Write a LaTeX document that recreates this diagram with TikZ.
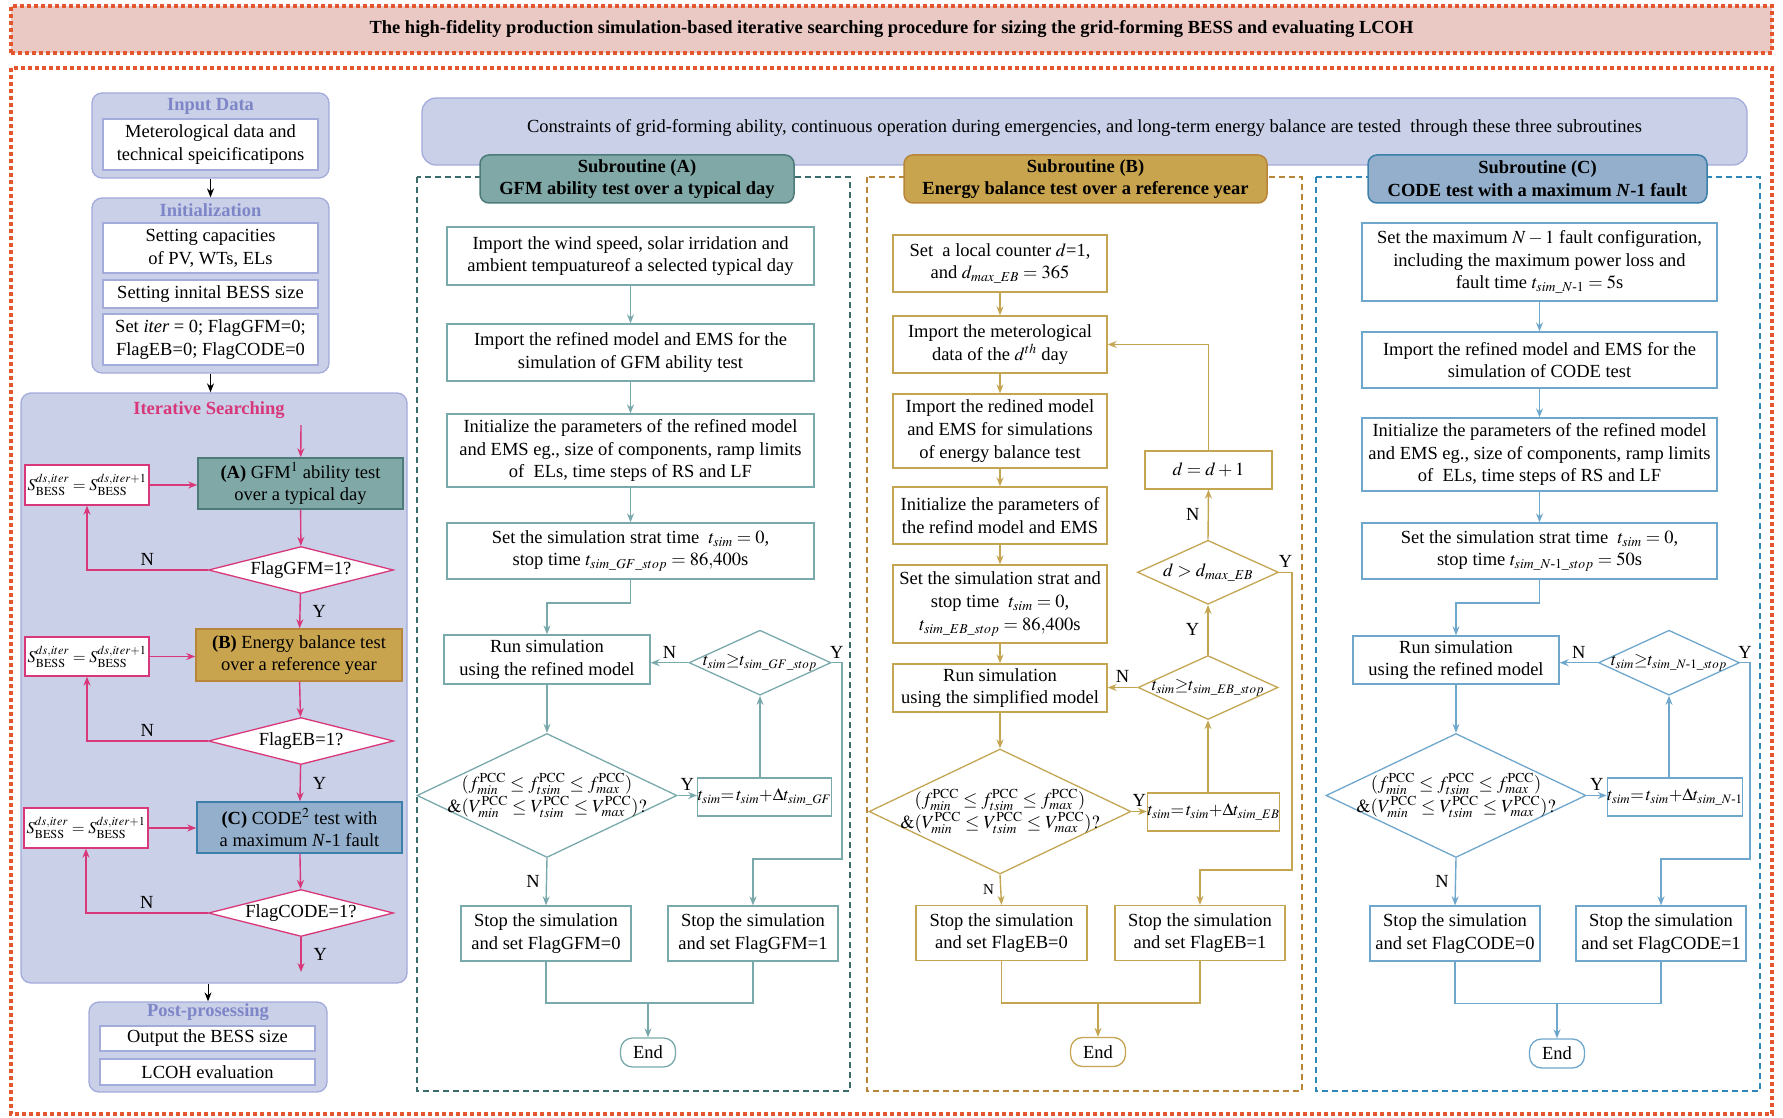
\documentclass[tikz,border=0pt]{standalone}
\usepackage{amsmath}
\usepackage{mathptmx}
\usepackage{fontspec}
\setmainfont{Liberation Serif}
\usetikzlibrary{shapes.geometric,arrows.meta}

\definecolor{orng}{HTML}{E4572E}
\definecolor{ttlf}{HTML}{EAC9C5}
\definecolor{lavf}{HTML}{C9D0E7}
\definecolor{lavd}{HTML}{A3ABDA}
\definecolor{lavt}{HTML}{7E86C8}
\definecolor{pnk}{HTML}{D8377A}
\definecolor{tlf}{HTML}{80A8A7}
\definecolor{tld}{HTML}{4D7B79}
\definecolor{tlfr}{HTML}{3C6B6B}
\definecolor{tll}{HTML}{7AA9AC}
\definecolor{gdf}{HTML}{C9A44E}
\definecolor{gdd}{HTML}{B8863A}
\definecolor{gdl}{HTML}{C4A552}
\definecolor{blf}{HTML}{93AFCB}
\definecolor{bld}{HTML}{3B7FAA}
\definecolor{blfr}{HTML}{2E87B9}
\definecolor{bll}{HTML}{6FA7CC}

\newcommand{\sform}{$S^{ds,iter}_{\mathrm{BESS}}=S^{ds,iter+1}_{\mathrm{BESS}}$}
\newcommand{\initxt}{Initialize the parameters of the refined model\\and EMS eg., size of components, ramp limits\\of \ ELs, time steps of RS and LF}
\newcommand{\condtxt}{$(f^{\mathrm{PCC}}_{min}\le f^{\mathrm{PCC}}_{tsim}\le f^{\mathrm{PCC}}_{max})$\\$\&(V^{\mathrm{PCC}}_{min}\le V^{\mathrm{PCC}}_{tsim}\le V^{\mathrm{PCC}}_{max})?$}

\begin{document}
\begin{tikzpicture}[x=1pt, y=-1pt, >={Stealth[length=9pt,width=7pt]},
  every node/.style={font=\fontsize{18.5}{22.7}\selectfont, align=center, inner sep=0pt},
  sz/.style 2 args={minimum width=#1pt, minimum height=#2pt},
  frm/.style={draw=orng, line width=3.5pt, dash pattern=on 4pt off 3pt},
  fr/.style={draw=#1, line width=2.5pt, dash pattern=on 6pt off 4pt},
  grp/.style={draw=lavd, fill=lavf, line width=1.3pt, rounded corners=10pt},
  grptl/.style={text=lavt, font=\fontsize{18.5}{22.7}\selectfont\bfseries},
  wbox/.style={draw=lavd, fill=white, line width=1.3pt},
  sbox/.style={draw=pnk, fill=white, line width=1.3pt, font=\fontsize{16.5}{20}\selectfont},
  tst/.style 2 args={fill=#1, draw=#2, line width=1.5pt},
  hd/.style 2 args={fill=#1, draw=#2, line width=1.5pt, rounded corners=9pt,
    font=\fontsize{18.5}{22.7}\selectfont\bfseries},
  bx/.style={draw=#1, fill=white, line width=1.3pt},
  sm/.style={font=\fontsize{17.5}{20}\selectfont},
  dia/.style={diamond, draw=#1, fill=white, line width=1.3pt, inner sep=-40pt},
  ln/.style={draw=#1, line width=1.4pt},
  pk/.style={draw=pnk, line width=1.4pt}]

\useasboundingbox (0,0) rectangle (1783,1118);

\node[frm, fill=ttlf, sz={1761}{47}, font=\fontsize{18.5}{22.7}\selectfont\bfseries] (ttl) at (891.5,29.5)
  {The high-fidelity production simulation-based iterative searching procedure for sizing the grid-forming BESS and evaluating LCOH};
\draw[frm] (11,68) rectangle (1772,1114);

% left column
\node[grp, sz={237}{85}] (inp) at (210.5,135.5) {};
\node[grptl] (inpT) at (210.5,106) {Input Data};
\node[wbox, sz={215}{51}] (inp1) at (210.5,144.5) {Meterological data and\\technical speicificatipons};

\node[grp, sz={237}{175}] (ini) at (210.5,285.5) {};
\node[grptl] (iniT) at (210.5,210) {Initialization};
\node[wbox, sz={215}{50}] (ini1) at (210.5,248) {Setting capacities\\of PV, WTs, ELs};
\node[wbox, sz={215}{28}] (ini2) at (210.5,294) {Setting innital BESS size};
\node[wbox, sz={215}{51}] (ini3) at (210.5,339.5) {Set \textit{iter} = 0; FlagGFM=0;\\FlagEB=0; FlagCODE=0};

\node[grp, sz={386}{590}] (its) at (214,688) {};
\node[grptl, text=pnk] (itsT) at (209,410) {Iterative Searching};
\coordinate (itin) at (301,425);
\coordinate (itout) at (301,972);

\node[tst={tlf}{tld}, sz={205}{51}] (ta) at (300.5,483.5) {\textbf{(A)} GFM$^{1}$ ability test\\over a typical day};
\node[dia=pnk, sz={185}{47}] (da) at (301,570) {FlagGFM=1?};
\node[sbox, sz={124}{40}] (sa) at (87,485) {\sform};
\node[tst={gdf}{gdd}, sz={206}{52}] (tb) at (299,655) {\textbf{(B)} Energy balance test\\over a reference year};
\node[dia=pnk, sz={185}{47}] (db) at (301,741) {FlagEB=1?};
\node[sbox, sz={124}{39}] (sb) at (87,656.5) {\sform};
\node[tst={blf}{bld}, sz={205}{51}] (tc) at (299.5,827.5) {\textbf{(C)} CODE$^{2}$ test with\\a maximum \textit{N}-1 fault};
\node[dia=pnk, sz={185}{47}] (dc) at (301,913) {FlagCODE=1?};
\node[sbox, sz={124}{40}] (sc) at (86,828) {\sform};

\node[grp, sz={238}{90}] (pst) at (208,1047) {};
\node[grptl] (pstT) at (208,1012) {Post-prosessing};
\node[wbox, sz={215}{25}] (pst1) at (207.5,1038.5) {Output the BESS size};
\node[wbox, sz={215}{26}] (pst2) at (207.5,1072) {LCOH evaluation};

\draw[->, line width=1pt] (inp) -- (ini);
\draw[->, line width=1pt] (ini.south) -- (ini.south |- its.north);
\draw[->, line width=1pt] (pst.north |- its.south) -- (pst.north);

\draw[pk,->] (itin) -- (ta);
\draw[pk,->] (ta) -- (da);
\draw[pk,->] (da.west) -- node[above=4pt]{N} (da.west -| sa.south) -- (sa.south);
\draw[pk,->] (sa.east) -- (sa.east -| ta.west);
\draw[pk,->] (da) -- node[right=12pt]{Y} (tb);
\draw[pk,->] (tb) -- (db);
\draw[pk,->] (db.west) -- node[above=4pt]{N} (db.west -| sb.south) -- (sb.south);
\draw[pk,->] (sb.east) -- (sb.east -| tb.west);
\draw[pk,->] (db) -- node[right=12pt]{Y} (tc);
\draw[pk,->] (tc) -- (dc);
\draw[pk,->] (dc.west) -- node[above=4pt]{N} (dc.west -| sc.south) -- (sc.south);
\draw[pk,->] (sc.east) -- (sc.east -| tc.west);
\draw[pk,->] (dc) -- node[right=12pt]{Y} (itout);

% banner and frames
\node[grp, rounded corners=14pt, sz={1325}{67}, text depth=11pt] (cons) at (1084.5,131.5)
  {Constraints of grid-forming ability, continuous operation during emergencies, and long-term energy balance are tested \ through these three subroutines};
\draw[fr=tlfr] (417,177) rectangle (850,1091);
\draw[fr=gdd] (867,177) rectangle (1302,1091);
\draw[fr=blfr] (1316,177) rectangle (1760,1091);

% subroutine A
\node[hd={tlf}{tld}, sz={314}{48}] (hA) at (637,179) {Subroutine (A)\\GFM ability test over a typical day};
\node[bx=tll, sz={367}{58}] (a1) at (630.5,256) {Import the wind speed, solar irridation and\\ambient tempuatureof a selected typical day};
\node[bx=tll, sz={367}{57}] (a2) at (630.5,352.5) {Import the refined model and EMS for the\\simulation of GFM ability test};
\node[bx=tll, sz={367}{73}] (a3) at (630.5,450.5) {\initxt};
\node[bx=tll, sz={367}{56}] (a4) at (630.5,551) {Set the simulation strat time \ $t_{sim}=0$,\\stop time $t_{sim\_GF\_stop}=86{,}400$s};
\node[bx=tll, sz={206}{49}] (a5) at (547,659.5) {Run simulation\\using the refined model};
\node[dia=tll, sz={260}{124}] (a6) at (547,795.5) {\condtxt};
\node[bx=tll, sm, sz={127}{38}] (a7) at (764.5,797) {$t_{sim}{=}\,t_{sim}{+}\Delta t_{sim\_GF}$};
\node[dia=tll, sm, sz={142}{65}] (a8) at (760,662.7) {$t_{sim}{\ge}t_{sim\_GF\_stop}$};
\node[bx=tll, sz={170}{55}] (a9) at (546,933.5) {Stop the simulation\\and set FlagGFM=0};
\node[bx=tll, sz={170}{55}] (a10) at (753,933.5) {Stop the simulation\\and set FlagGFM=1};
\node[bx=tll, rounded corners=12pt, sz={55}{29}] (a11) at (648,1052.5) {End};

\draw[ln=tll,->] (a1) -- (a2);
\draw[ln=tll,->] (a2) -- (a3);
\draw[ln=tll,->] (a3) -- (a4);
\draw[ln=tll,->] (a4.south) -- (630.5,603) -| (a5.north);
\draw[ln=tll,->] (a5) -- (a6);
\draw[ln=tll,->] (a6.east) -- node[above=4pt]{Y} (a7.west |- a6.east);
\draw[ln=tll,->] (a8.south |- a7.north) -- (a8.south);
\draw[ln=tll,->] (a8.west) -- node[above=4pt]{N} (a5.east |- a8.west);
\draw[ln=tll,->] (a8.east) -- node[above=4pt]{Y} (842,662.7) |- (753,859) -- (a10.north);
\draw[ln=tll,->] (a6.south) -- node[left=6pt]{N} (a9.north);
\draw[ln=tll] (a9.south) |- (a10.south |- 0,1003) -- (a10.south);
\draw[ln=tll,->] (a11.north |- 0,1003) -- (a11.north);

% subroutine B
\node[hd={gdf}{gdd}, sz={363}{48}] (hB) at (1085.5,179) {Subroutine (B)\\Energy balance test over a reference year};
\node[bx=gdl, sz={214}{57}] (b1) at (1000,263.5) {Set \ a local counter $d$=1,\\and $d_{max\_EB}=365$};
\node[bx=gdl, sz={214}{57}] (b2) at (1000,344.5) {Import the meterological\\data of the $d^{th}$ day};
\node[bx=gdl, sz={214}{74}] (b3) at (1000,431) {Import the redined model\\and EMS for simulations\\of energy balance test};
\node[bx=gdl, sz={214}{57}] (b4) at (1000,515.5) {Initialize the parameters of\\the refind model and EMS};
\node[bx=gdl, sz={214}{78}] (b5) at (1000,604) {Set the simulation strat and\\stop time \ $t_{sim}=0$,\\$t_{sim\_EB\_stop}=86{,}400$s};
\node[bx=gdl, sz={214}{48}] (b6) at (1000,688) {Run simulation\\using the simplified model};
\node[dia=gdl, sz={262}{125}] (b7) at (1000,811.5) {\condtxt};
\node[bx=gdl, sm, sz={127}{38}] (b8) at (1213.5,812) {$t_{sim}{=}\,t_{sim}{+}\Delta t_{sim\_EB}$};
\node[dia=gdl, sm, sz={140}{64}] (b9) at (1208,687.5) {$t_{sim}{\ge}t_{sim\_EB\_stop}$};
\node[dia=gdl, sz={141}{64}] (b10) at (1208,572.3) {$d>d_{max\_EB}$};
\node[bx=gdl, sz={127}{38}] (b11) at (1208.5,470) {$d=d+1$};
\node[bx=gdl, sz={171}{55}] (b12) at (1001.5,933) {Stop the simulation\\and set FlagEB=0};
\node[bx=gdl, sz={170}{55}] (b13) at (1200,933) {Stop the simulation\\and set FlagEB=1};
\node[bx=gdl, rounded corners=12pt, sz={55}{29}] (b14) at (1098,1052) {End};

\draw[ln=gdl,->] (b1) -- (b2);
\draw[ln=gdl,->] (b2) -- (b3);
\draw[ln=gdl,->] (b3) -- (b4);
\draw[ln=gdl,->] (b4) -- (b5);
\draw[ln=gdl,->] (b5) -- (b6);
\draw[ln=gdl,->] (b6) -- (b7);
\draw[ln=gdl,->] (b7.east) -- node[above=4pt]{Y} (b8.west |- b7.east);
\draw[ln=gdl,->] (b9.south |- b8.north) -- (b9.south);
\draw[ln=gdl,->] (b9.west) -- node[above=4pt]{N} (b6.east |- b9.west);
\draw[ln=gdl,->] (b9.north) -- node[left=8pt]{Y} (b10.south);
\draw[ln=gdl,->] (b10.north) -- node[left=8pt]{N} (b11.south);
\draw[ln=gdl,->] (b11.north) |- (b2.east);
\draw[ln=gdl,->] (b10.east) -- node[above=4pt]{Y} (1292,572.3) |- (1200,870) -- (b13.north);
\draw[ln=gdl,->] (b7.south) -- node[left=6pt, font=\fontsize{15}{18}\selectfont]{N} (b12.north);
\draw[ln=gdl] (b12.south) |- (b13.south |- 0,1003) -- (b13.south);
\draw[ln=gdl,->] (b14.north |- 0,1003) -- (b14.north);

% subroutine C
\node[hd={blf}{bld}, sz={339}{48}] (hC) at (1537.5,179) {Subroutine (C)\\CODE test with a maximum \textit{N}-1 fault};
\node[bx=bll, sz={355}{78}] (c1) at (1539.5,262) {Set the maximum $N-1$ fault configuration,\\including the maximum power loss and\\fault time $t_{sim\_N\text{-}1}=5$s};
\node[bx=bll, sz={355}{56}] (c2) at (1539.5,360) {Import the refined model and EMS for the\\simulation of CODE test};
\node[bx=bll, sz={355}{73}] (c3) at (1539.5,454.5) {\initxt};
\node[bx=bll, sz={355}{56}] (c4) at (1539.5,551) {Set the simulation strat time \ $t_{sim}=0$,\\stop time $t_{sim\_N\text{-}1\_stop}=50$s};
\node[bx=bll, sz={206}{48}] (c5) at (1456,660) {Run simulation\\using the refined model};
\node[dia=bll, sz={260}{124}] (c6) at (1456,795.5) {\condtxt};
\node[bx=bll, sm, sz={130}{38}] (c7) at (1675,797) {$t_{sim}{=}\,t_{sim}{+}\Delta t_{sim\_N\text{-}1}$};
\node[dia=bll, sm, sz={141}{65}] (c8) at (1669,662.7) {$t_{sim}{\ge}t_{sim\_N\text{-}1\_stop}$};
\node[bx=bll, sz={170}{55}] (c9) at (1455,933.5) {Stop the simulation\\and set FlagCODE=0};
\node[bx=bll, sz={170}{55}] (c10) at (1661,933.5) {Stop the simulation\\and set FlagCODE=1};
\node[bx=bll, rounded corners=12pt, sz={55}{29}] (c11) at (1557,1053.5) {End};

\draw[ln=bll,->] (c1) -- (c2);
\draw[ln=bll,->] (c2) -- (c3);
\draw[ln=bll,->] (c3) -- (c4);
\draw[ln=bll,->] (c4.south) -- (1539.5,603) -| (c5.north);
\draw[ln=bll,->] (c5) -- (c6);
\draw[ln=bll,->] (c6.east) -- node[above=4pt]{Y} (c7.west |- c6.east);
\draw[ln=bll,->] (c8.south |- c7.north) -- (c8.south);
\draw[ln=bll,->] (c8.west) -- node[above=4pt]{N} (c5.east |- c8.west);
\draw[ln=bll,->] (c8.east) -- node[above=4pt]{Y} (1750,662.7) |- (1661,859) -- (c10.north);
\draw[ln=bll,->] (c6.south) -- node[left=6pt]{N} (c9.north);
\draw[ln=bll] (c9.south) |- (c10.south |- 0,1003.5) -- (c10.south);
\draw[ln=bll,->] (c11.north |- 0,1003.5) -- (c11.north);
\end{tikzpicture}
\end{document}
